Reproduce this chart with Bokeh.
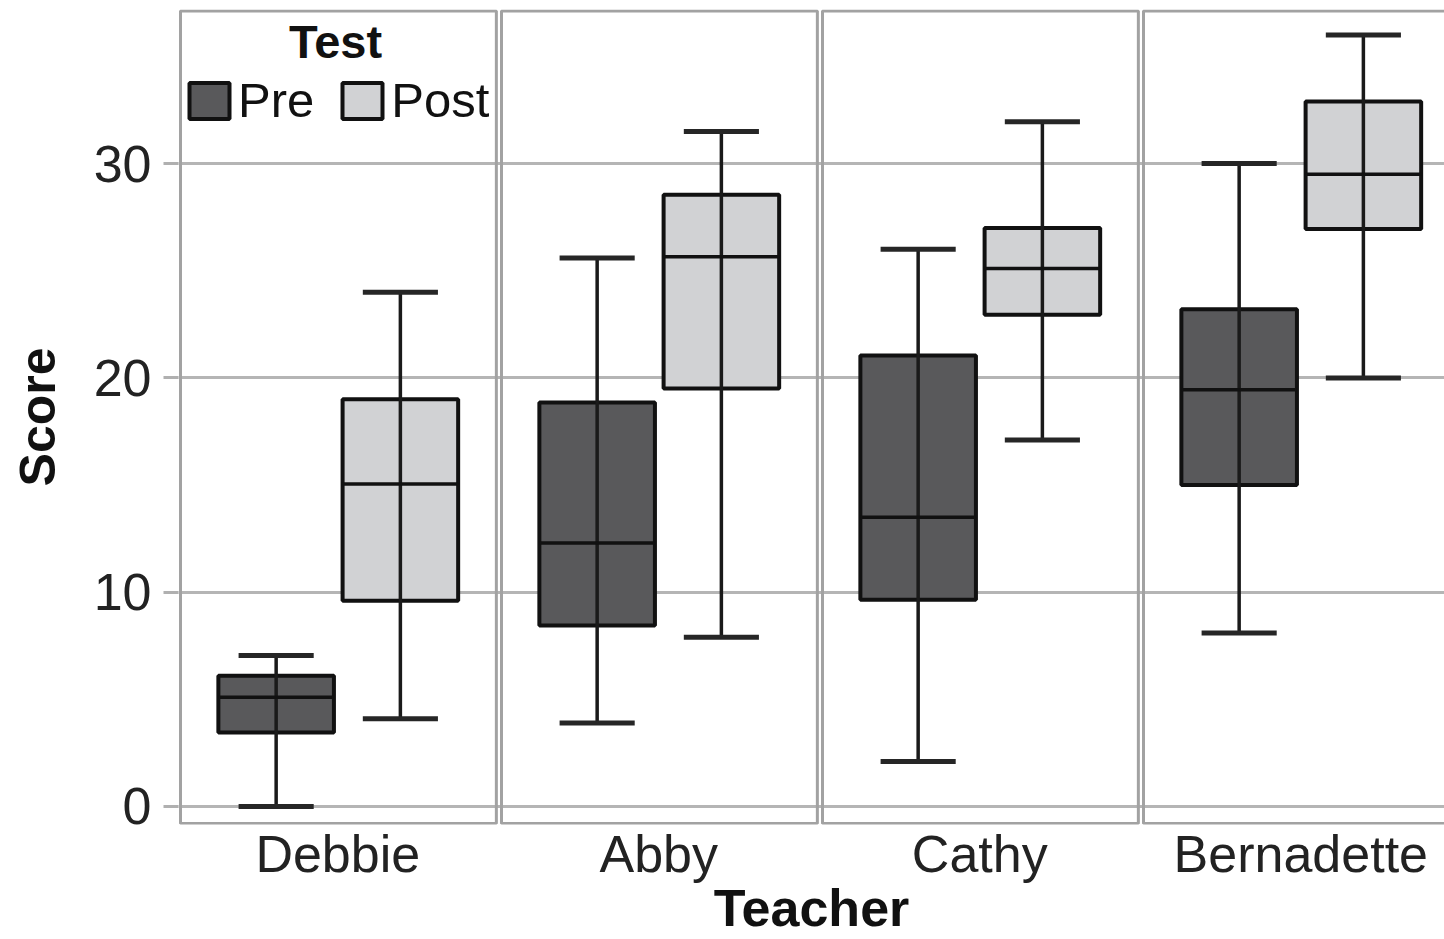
from bokeh.plotting import figure
from bokeh.models import (ColumnDataSource, FixedTicker, Legend, LegendItem, Label, Range1d)
from bokeh.embed import file_html
from bokeh.resources import INLINE

# ---- data ----
teachers = ["Debbie", "Abby", "Cathy", "Bernadette"]
tests = ["Pre", "Post"]

pre_low = [0.0, 3.9, 2.1, 8.1]
pre_q1 = [3.45, 8.45, 9.65, 15.0]
pre_med = [5.1, 12.3, 13.5, 19.45]
pre_q3 = [6.1, 18.85, 21.05, 23.2]
pre_high = [7.05, 25.6, 26.0, 30.0]

post_low = [4.1, 7.9, 17.1, 20.0]
post_q1 = [9.6, 19.5, 22.95, 26.95]
post_med = [15.05, 25.65, 25.1, 29.5]
post_q3 = [19.0, 28.55, 27.0, 32.9]
post_high = [24.0, 31.5, 31.95, 36.0]

y_ticks = [0, 10, 20, 30]

# ---- layout / style ----
FONT = "Liberation Sans"
PANEL_W = 0.984
OFFSETS = {"Pre": 0.298, "Post": 0.685}
BOX_W = 0.36
CAP_W = 0.234
FILLS = {"Pre": "#59595b", "Post": "#d1d2d4"}
Y0, Y1 = -0.84, 37.19

p = figure(width=1444, height=939, output_backend="svg", toolbar_location=None,
           x_range=Range1d(-0.0062, 3.9377), y_range=Range1d(Y0, Y1),
           min_border_left=178, min_border_right=0, min_border_top=9,
           min_border_bottom=115)
p.outline_line_color = None
p.background_fill_color = "white"
p.border_fill_color = "white"

# grid
p.xgrid.grid_line_color = None
p.ygrid.grid_line_color = "#b5b5b5"
p.ygrid.grid_line_width = 3
p.yaxis.ticker = FixedTicker(ticks=y_ticks)

# panel borders (facets)
n = len(teachers)
p.quad(left=[i for i in range(n)], right=[i + PANEL_W for i in range(n)],
       bottom=[-0.79] * n, top=[37.12] * n,
       fill_color=None, line_color="#a2a2a2", line_width=3)

renderers = {}
series = {
    "Pre": (pre_low, pre_q1, pre_med, pre_q3, pre_high),
    "Post": (post_low, post_q1, post_med, post_q3, post_high),
}
for t in tests:
    low, q1, med, q3, high = series[t]
    xs = [i + OFFSETS[t] for i in range(n)]
    src = ColumnDataSource(dict(x=xs, low=low, q1=q1, med=med, q3=q3, high=high,
                                cl=[x - CAP_W / 2 for x in xs], cr=[x + CAP_W / 2 for x in xs],
                                bl=[x - BOX_W / 2 for x in xs], br=[x + BOX_W / 2 for x in xs]))
    r = p.vbar(x="x", width=BOX_W, bottom="q1", top="q3", source=src,
               fill_color=FILLS[t], line_color="#111111", line_width=4)
    renderers[t] = r
    p.segment(x0="x", y0="low", x1="x", y1="high", source=src,
              line_color="#1a1a1a", line_width=3.5)
    p.segment(x0="bl", y0="med", x1="br", y1="med", source=src,
              line_color="#111111", line_width=3.5)
    p.segment(x0="cl", y0="low", x1="cr", y1="low", source=src,
              line_color="#262626", line_width=5)
    p.segment(x0="cl", y0="high", x1="cr", y1="high", source=src,
              line_color="#262626", line_width=5)

# y axis
ya = p.yaxis[0]
ya.axis_line_color = None
ya.major_tick_out = 15
ya.major_tick_in = 0
ya.major_tick_line_color = "#b0b0b0"
ya.major_tick_line_width = 3
ya.minor_tick_line_color = None
ya.major_label_standoff = 12
ya.major_label_text_font = FONT
ya.major_label_text_font_size = "52px"
ya.major_label_text_color = "#222222"
ya.axis_label = "Score"
ya.axis_label_text_font = FONT
ya.axis_label_text_font_style = "bold"
ya.axis_label_text_font_size = "50px"
ya.axis_label_text_color = "#111111"
ya.axis_label_standoff = 25

# x axis
xa = p.xaxis[0]
centers = [i + 0.49 for i in range(n)]
xa.ticker = FixedTicker(ticks=centers)
xa.major_label_overrides = {c: name for c, name in zip(centers, teachers)}
xa.axis_line_color = None
xa.major_tick_line_color = None
xa.minor_tick_line_color = None
xa.major_tick_out = 0
xa.major_tick_in = 0
xa.major_label_standoff = 0
xa.major_label_text_font = FONT
xa.major_label_text_font_size = "52px"
xa.major_label_text_color = "#222222"
xa.axis_label = "Teacher"
xa.axis_label_text_font = FONT
xa.axis_label_text_font_style = "bold"
xa.axis_label_text_font_size = "52px"
xa.axis_label_text_color = "#111111"
xa.axis_label_standoff = -7

# legend
legend = Legend(items=[LegendItem(label=t, renderers=[renderers[t]]) for t in tests],
                orientation="horizontal", location=(6, 696),
                glyph_width=50, glyph_height=45, label_standoff=4, spacing=23,
                padding=0, margin=0, background_fill_alpha=0, border_line_color=None,
                label_text_font=FONT, label_text_font_size="49px",
                label_text_color="#111111")
p.add_layout(legend)
p.add_layout(Label(x=157, y=783, x_units="screen", y_units="screen", text="Test",
                   text_align="center", text_baseline="middle",
                   text_font=FONT, text_font_style="bold", text_font_size="47px",
                   text_color="#111111"))

open("out.html", "w").write(file_html(p, INLINE))
